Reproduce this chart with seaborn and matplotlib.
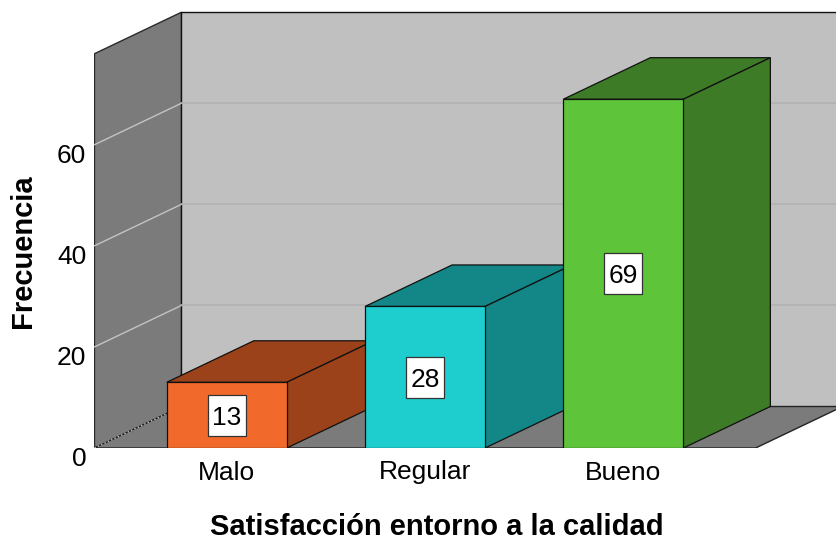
import matplotlib
matplotlib.use("Agg")
import matplotlib.pyplot as plt
from matplotlib.patches import Polygon, Rectangle
from matplotlib.transforms import ScaledTranslation
import seaborn as sns
import pandas as pd

# Frequency of each satisfaction level
categories = ["Malo", "Regular", "Bueno"]
frequencies = [13, 28, 69]
y_ticks = [0, 20, 40, 60]
x_title = "Satisfacción entorno a la calidad"
y_title = "Frecuencia"

front_colors = ["#f26a2b", "#1ecece", "#5ec43a"]
shade_colors = ["#9b421a", "#138787", "#3d7b26"]

sns.set_theme(style="white")
plt.rcParams["font.family"] = ["Liberation Sans", "DejaVu Sans"]

W, H, DPI = 837, 540, 100
fig = plt.figure(figsize=(W / DPI, H / DPI), dpi=DPI)

TICK_FS = 19
TITLE_FS = 21

# pixel geometry of the front plane
px_left, px_base = 94.5, 448.0
px_per_cat, px_per_unit = 198.3, 5.055
x0 = -0.667
x1 = 2.667
y_top = 78.0
DX = 87.0 / px_per_cat     # depth offset along x (data units)
DY = 41.5 / px_per_unit    # depth offset along y (data units)

ax = fig.add_axes([px_left / W, (H - px_base) / H,
                   (W - px_left) / W, px_base / H])
ax.patch.set_visible(False)

df = pd.DataFrame({"cat": categories, "freq": frequencies})
sns.barplot(data=df, x="cat", y="freq", hue="cat", palette=front_colors,
            width=120.0 / px_per_cat, edgecolor="#111111", linewidth=0.9,
            saturation=1, legend=False, ax=ax)

ax.set_xlim(x0, x0 + (W - px_left) / px_per_cat)
ax.set_ylim(0, px_base / px_per_unit)

# side wall, back wall and floor
side = Polygon([(x0, 0), (x0 + DX, DY), (x0 + DX, y_top + DY), (x0, y_top)],
               closed=True, facecolor="#7b7b7b", edgecolor="#2a2a2a",
               linewidth=1.0, zorder=1)
back = Polygon([(x0 + DX, DY), (x1 + DX, DY), (x1 + DX, y_top + DY),
                (x0 + DX, y_top + DY)], closed=True, facecolor="#c0c0c0",
               edgecolor="#111111", linewidth=1.0, zorder=1)
floor = Polygon([(x0, 0), (x1, 0), (x1 + DX, DY), (x0 + DX, DY)],
                closed=True, facecolor="#7b7b7b", edgecolor="#222222",
                linewidth=1.0, zorder=2)
for p in (side, back, floor):
    ax.add_patch(p)

for t in y_ticks[1:]:
    ax.plot([x0, x0 + DX], [t, t + DY], color="#c4c4c4", lw=1.0, zorder=3)
    ax.plot([x0 + DX, x1 + DX], [t + DY, t + DY], color="#b2b2b2",
            lw=1.2, zorder=3)
ax.plot([x0, x0 + DX], [0, DY], color="#c8c8c8", lw=1.0, ls=":", zorder=3)

# extrude each bar into a box and label it
for i, (bar, val) in enumerate(zip(ax.patches[:len(categories)], frequencies)):
    base_z = 10 + 4 * i
    bx, bw = bar.get_x(), bar.get_width()
    top = Polygon([(bx, val), (bx + DX, val + DY), (bx + bw + DX, val + DY),
                   (bx + bw, val)], closed=True, facecolor=shade_colors[i],
                  edgecolor="#111111", linewidth=0.9, zorder=base_z)
    right = Polygon([(bx + bw, 0), (bx + bw + DX, DY), (bx + bw + DX, val + DY),
                     (bx + bw, val)], closed=True, facecolor=shade_colors[i],
                    edgecolor="#111111", linewidth=0.9, zorder=base_z)
    ax.add_patch(top)
    ax.add_patch(right)
    bar.set_zorder(base_z + 1)
    cx = bx + bw / 2
    bw_box, bh_box = 38.0 / px_per_cat, 41.0 / px_per_unit
    ax.add_patch(Rectangle((cx - bw_box / 2, val / 2 - bh_box / 2), bw_box,
                           bh_box, facecolor="white", edgecolor="#333333",
                           linewidth=0.9, zorder=base_z + 2))
    ax.text(cx, val / 2, str(val), ha="center", va="center_baseline",
            fontsize=TICK_FS, color="black", zorder=base_z + 3)

for s in ax.spines.values():
    s.set_visible(False)
ax.set_xlabel("")
ax.set_ylabel("")
ax.set_yticks(y_ticks)
ax.set_yticklabels([str(t) for t in y_ticks])
ax.tick_params(axis="both", length=0, labelsize=TICK_FS, colors="black")
ax.tick_params(axis="y", pad=6)
ax.tick_params(axis="x", pad=9)
shift = ScaledTranslation(0, -8.5 / DPI, fig.dpi_scale_trans)
for lab in ax.get_yticklabels():
    lab.set_transform(lab.get_transform() + shift)

fig.text(436.7 / W, 1 - 535 / H, x_title, ha="center", va="baseline",
         fontsize=TITLE_FS, fontweight="bold", color="black")
fig.text(23 / W, 1 - 251.5 / H, y_title, ha="center", va="center",
         rotation=90, fontsize=TITLE_FS, fontweight="bold", color="black")

fig.savefig("out.png", dpi=DPI, facecolor="white")
